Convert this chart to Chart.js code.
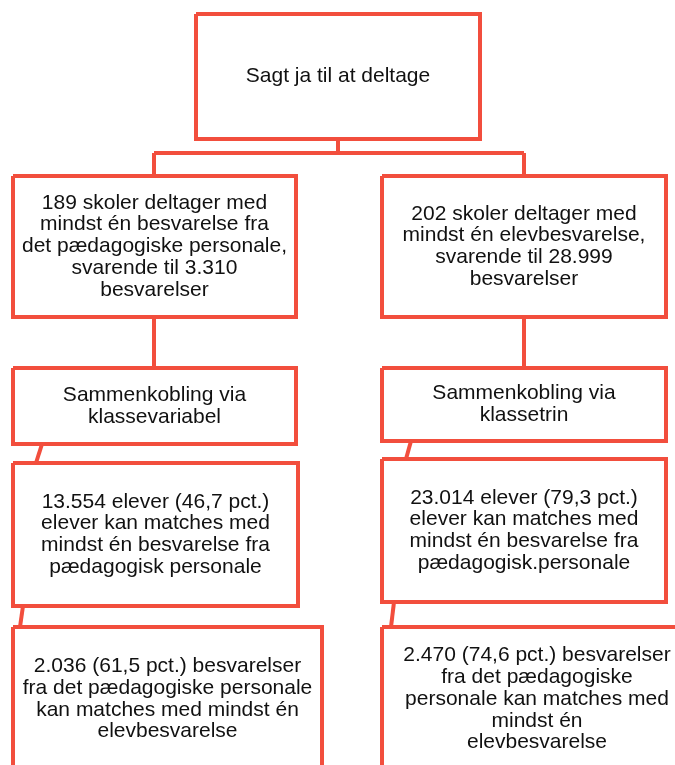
<!DOCTYPE html>
<html lang="da">
<head>
    <meta charset="UTF-8">
    <title>Sagt ja til at deltage</title>
    <script src="https://cdn.jsdelivr.net/npm/chart.js"></script>
    <style>
        html, body {
            margin: 0;
            padding: 0;
            background: #ffffff;
        }
        .chart-box {
            width: 675px;
            height: 765px;
            position: relative;
        }
    </style>
</head>
<body>
    <div class="chart-box">
        <canvas id="flowChart"></canvas>
    </div>

    <script>
        // Tekst i hver boks
        const boxText = [
            ['Sagt ja til at deltage'],
            ['189 skoler deltager med', 'mindst én besvarelse fra', 'det pædagogiske personale,', 'svarende til 3.310', 'besvarelser'],
            ['202 skoler deltager med', 'mindst én elevbesvarelse,', 'svarende til 28.999', 'besvarelser'],
            ['Sammenkobling via', 'klassevariabel'],
            ['Sammenkobling via', 'klassetrin'],
            ['13.554 elever (46,7 pct.)', 'elever kan matches med', 'mindst én besvarelse fra', 'pædagogisk personale'],
            ['23.014 elever (79,3 pct.)', 'elever kan matches med', 'mindst én besvarelse fra', 'pædagogisk.personale'],
            ['2.036 (61,5 pct.) besvarelser', 'fra det pædagogiske personale', 'kan matches med mindst én', 'elevbesvarelse'],
            ['2.470 (74,6 pct.) besvarelser', 'fra det pædagogiske', 'personale kan matches med', 'mindst én', 'elevbesvarelse']
        ];

        // Boksenes kanter (i diagrammets koordinater)
        const boxLeft   = [196,  13, 382,  13, 382,  13, 382,  13, 382];
        const boxRight  = [480, 296, 666, 296, 666, 298, 666, 322, 692];
        const boxTop    = [ 14, 176, 176, 368, 368, 463, 459, 627, 627];
        const boxBottom = [139, 317, 317, 444, 441, 606, 602, 771, 771];

        // Forbindelseslinjer
        const linkX = [[338, 338], [154, 524], [154, 154], [524, 524], [154, 154], [524, 524], [42, 36], [411, 406], [23, 20], [394, 391]];
        const linkY = [[139, 153], [153, 153], [153, 176], [153, 176], [317, 368], [317, 368], [444, 463], [441, 459], [606, 627], [602, 627]];

        const red = '#f24e3d';

        const datasets = [];
        boxText.forEach((txt, i) => {
            datasets.push({
                label: txt[0],
                data: [
                    { x: boxLeft[i], y: boxTop[i] },
                    { x: boxRight[i], y: boxTop[i] },
                    { x: boxRight[i], y: boxBottom[i] },
                    { x: boxLeft[i], y: boxBottom[i] },
                    { x: boxLeft[i], y: boxTop[i] }
                ],
                showLine: true,
                borderColor: red,
                borderWidth: 4,
                borderJoinStyle: 'miter',
                pointRadius: 0,
                fill: false,
                tension: 0
            });
        });
        linkX.forEach((xs, i) => {
            datasets.push({
                label: 'link' + i,
                data: [{ x: xs[0], y: linkY[i][0] }, { x: xs[1], y: linkY[i][1] }],
                showLine: true,
                borderColor: red,
                borderWidth: 4,
                borderCapStyle: 'butt',
                pointRadius: 0,
                fill: false
            });
        });

        // Skriver teksten midt i hver boks
        const boxLabels = {
            id: 'boxLabels',
            afterDatasetsDraw(chart) {
                const ctx = chart.ctx;
                const xs = chart.scales.x;
                const ys = chart.scales.y;
                const lineH = 21.8;
                ctx.save();
                ctx.font = '21px "Liberation Sans", Arial, sans-serif';
                ctx.fillStyle = '#111111';
                ctx.textAlign = 'center';
                ctx.textBaseline = 'middle';
                boxText.forEach((lines, i) => {
                    const cx = xs.getPixelForValue((boxLeft[i] + boxRight[i]) / 2);
                    const cy = ys.getPixelForValue((boxTop[i] + boxBottom[i]) / 2);
                    const start = cy - (lines.length - 1) * lineH / 2;
                    lines.forEach((line, j) => {
                        ctx.fillText(line, cx, start + j * lineH);
                    });
                });
                ctx.restore();
            }
        };

        new Chart(document.getElementById('flowChart'), {
            type: 'scatter',
            data: { datasets: datasets },
            options: {
                responsive: true,
                maintainAspectRatio: false,
                animation: false,
                layout: { padding: 0 },
                plugins: {
                    legend: { display: false },
                    tooltip: { enabled: false }
                },
                scales: {
                    x: { display: false, min: 0, max: 675 },
                    y: { display: false, min: 0, max: 765, reverse: true }
                }
            },
            plugins: [boxLabels]
        });
    </script>
</body>
</html>
